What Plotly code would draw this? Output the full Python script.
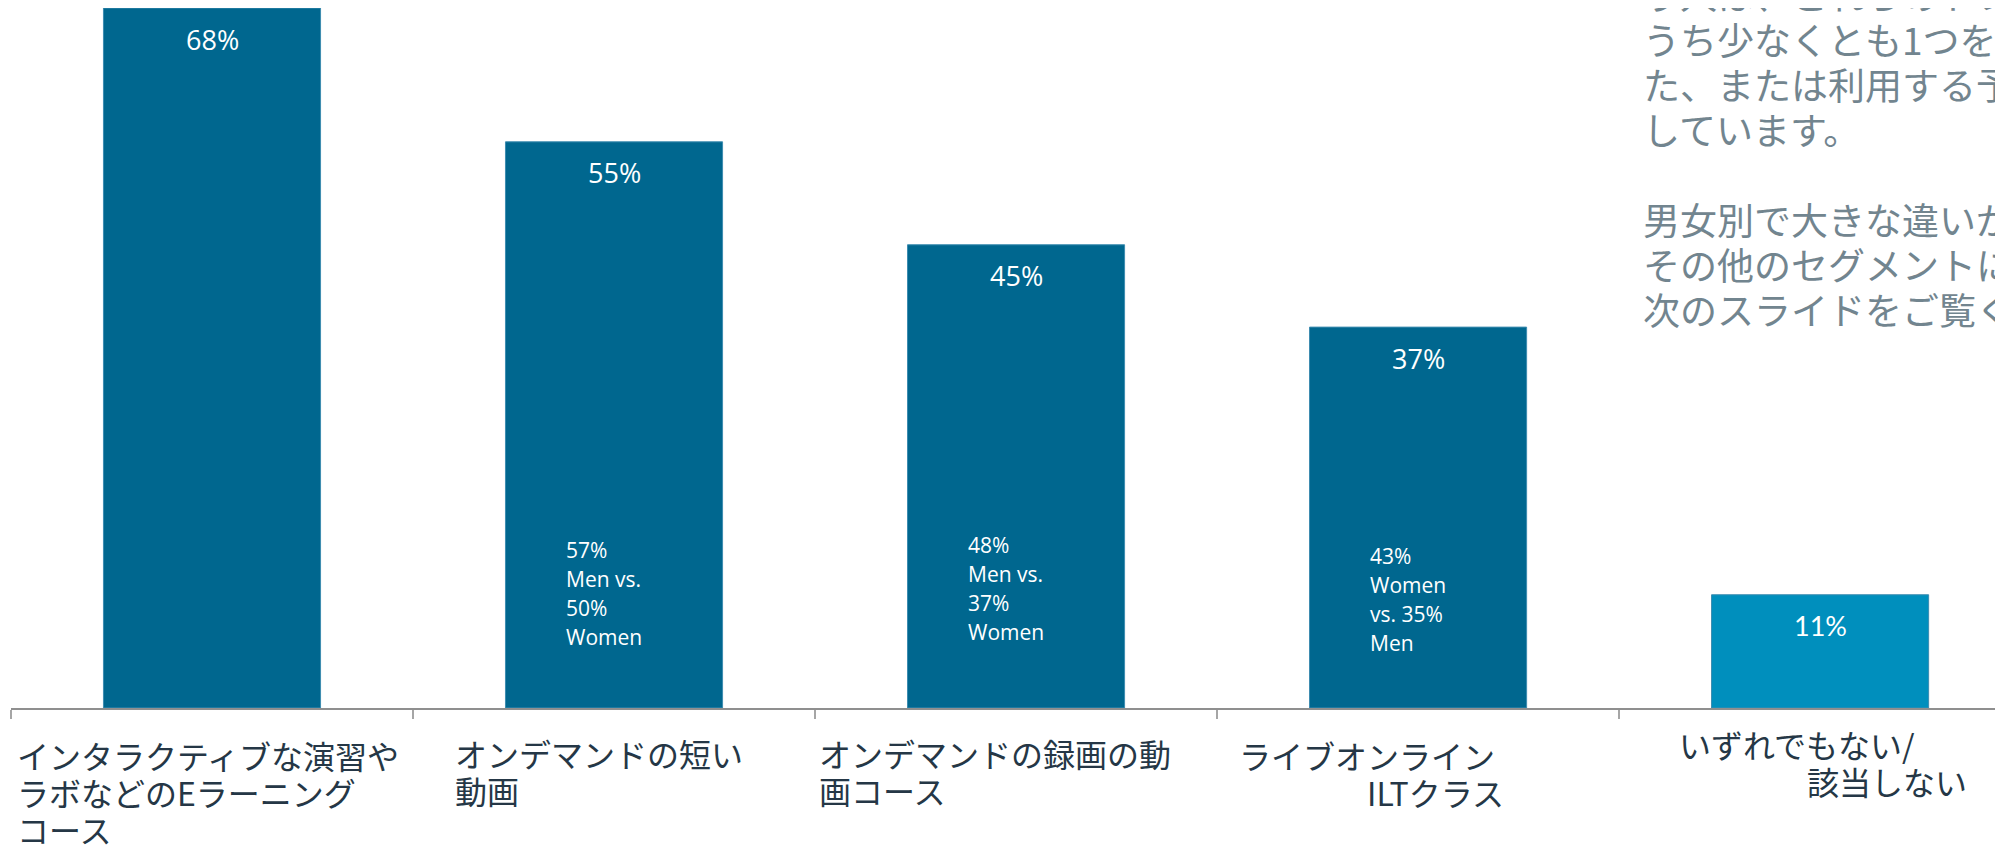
"""Bar chart: usage of training formats (Japanese survey slide)."""

import plotly.graph_objects as go

# data
categories = [
    "インタラクティブな演習やラボなどのEラーニングコース",
    "オンデマンドの短い動画",
    "オンデマンドの録画の動画コース",
    "ライブオンラインILTクラス",
    "いずれでもない/該当しない",
]
category_labels = [
    "インタラクティブな演習や<br>ラボなどのEラーニング<br>コース",
    "オンデマンドの短い<br>動画",
    "オンデマンドの録画の動<br>画コース",
    "ライブオンライン<br>\u3000\u3000\u3000\u3000ILTクラス",
    "いずれでもない/<br>\u3000\u3000\u3000\u3000該当しない",
]
values = [68, 55, 45, 37, 11]
value_labels = ["68%", "55%", "45%", "37%", "11%"]
gender_notes = [
    None,
    "57%<br>Men vs.<br>50%<br>Women",
    "48%<br>Men vs.<br>37%<br>Women",
    "43%<br>Women<br>vs. 35%<br>Men",
    None,
]
side_text = (
    "う人は、これらのトレーニングの<br>"
    "うち少なくとも1つを利用し<br>"
    "た、または利用する予定と回答<br>"
    "しています。<br><br>"
    "男女別で大きな違いがありました。<br>"
    "その他のセグメントについては、<br>"
    "次のスライドをご覧ください。"
)

bar_colors = ["#00678f", "#00678f", "#00678f", "#00678f", "#008fbd"]

fig = go.Figure(
    go.Bar(
        x=categories,
        y=values,
        marker=dict(color=bar_colors, line=dict(color="#3d8cb0", width=1)),
        hoverinfo="skip",
    )
)


def add_lines(text, spacing, first_shift, **kw):
    """Add a multi-line text as one annotation per line (tight line spacing)."""
    for j, line in enumerate(text.split("<br>")):
        if line:
            fig.add_annotation(text=line, showarrow=False, yanchor="middle",
                               yshift=first_shift - j * spacing, **kw)


# value labels just under the bar tops
for i, (cat, val, lab) in enumerate(zip(categories, values, value_labels)):
    fig.add_annotation(
        x=cat, y=val, text=lab, showarrow=False,
        yanchor="middle", yshift=-31,
        font=dict(family="Lato" if i == 4 else "Open Sans", size=27, color="white"),
    )

# gender difference notes inside the bars
note_shift = [None, 158, 163, 152, None]
for cat, note, ns in zip(categories, gender_notes, note_shift):
    if note:
        add_lines(note, 29, ns, x=cat, y=0, xanchor="left", xshift=-50,
                  font=dict(family="Open Sans", size=21, color="white"))

# category labels (left aligned like the slide)
label_xshift = [-197, -161, -199, -181, -143]
label_yshift = [-47, -45, -45, -47, -36]
for cat, lab, xs, ys in zip(categories, category_labels, label_xshift, label_yshift):
    add_lines(lab, 37, ys, x=cat, y=0, xanchor="left", xshift=xs,
              font=dict(family="Noto Sans CJK JP", size=32, color="#253746"))

# commentary text on the right (cut off by the slide edge)
add_lines(side_text, 45, 14, xref="paper", yref="paper", x=0.8183, y=1,
          xanchor="left",
          font=dict(family="Noto Sans CJK JP", size=37, color="#72858f"))

fig.update_layout(
    width=1995,
    height=839,
    margin=dict(l=3, r=0, t=0, b=139),
    plot_bgcolor="white",
    paper_bgcolor="white",
    bargap=0.46,
    showlegend=False,
    xaxis=dict(
        range=[-0.5, 4.455],
        showticklabels=False,
        tickson="boundaries",
        ticks="outside",
        ticklen=9,
        tickwidth=1.5,
        tickcolor="#a6a6a6",
        showline=True,
        linecolor="#8f8f8f",
        linewidth=2,
        showgrid=False,
        zeroline=False,
    ),
    yaxis=dict(
        range=[0, 68],
        visible=False,
        showgrid=False,
    ),
)

fig.write_html("out.html")
